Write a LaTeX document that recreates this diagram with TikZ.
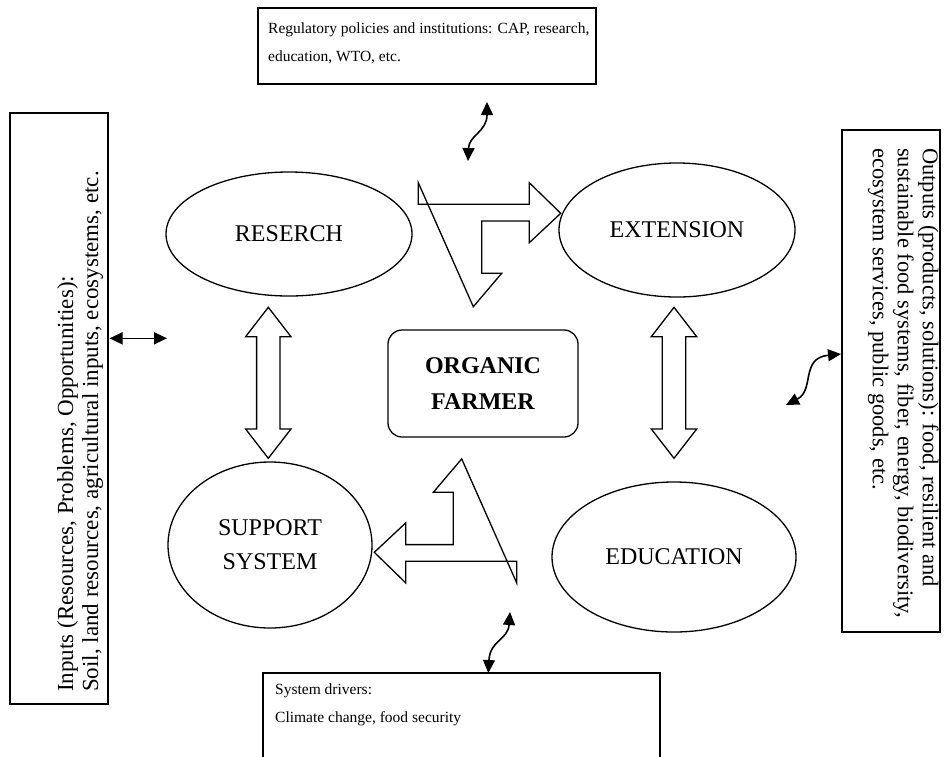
\documentclass[tikz,border=0pt]{standalone}
\usepackage{fontspec}
\setmainfont{Liberation Serif}
\usetikzlibrary{arrows.meta,shapes.geometric}
\begin{document}
\begin{tikzpicture}[x=1pt,y=-1pt,
  outline/.style={draw=black, line width=1.3pt},
  textbox/.style={outline, rectangle, inner sep=0pt},
  oval/.style={outline, ellipse, inner sep=0pt, font=\fontsize{24}{28}\selectfont, align=center},
  blockarrow/.style={draw=black, line width=1.3pt, fill=white, line join=miter},
  smallarrow/.style={line width=1.6pt, {Triangle[length=13pt,width=12pt]}-{Triangle[length=13pt,width=12pt]}},
  boxtext/.style={inner sep=0pt, align=left, font=\fontsize{15.5}{28}\selectfont},
  rottext/.style={inner sep=0pt, align=left, font=\fontsize{22.5}{25}\selectfont},
  dblarr/.pic={\draw[blockarrow] (0,0) -- (22.7,29.4) -- (11.7,29.4) -- (11.7,121.7) -- (22.7,121.7) -- (0,151) -- (-22.7,121.7) -- (-11.7,121.7) -- (-11.7,29.4) -- (-22.7,29.4) -- cycle;}
]
\useasboundingbox (0,0) rectangle (944,756);
\clip (0,0) rectangle (944,756);

% top box
\node[textbox, minimum width=338pt, minimum height=76pt] (reg) at (427,46) {};
\node[boxtext, anchor=north west] (regtext) at (268,23) {Regulatory policies and institutions: CAP, research,\\education, WTO, etc.};

% left box
\node[textbox, minimum width=98pt, minimum height=591pt] (inp) at (59,408.5) {};
\node[rottext, rotate=90, anchor=north west, font=\fontsize{23}{25}\selectfont] (inptext) at (57,692) {Inputs (Resources, Problems, Opportunities):\\Soil, land resources, agricultural inputs, ecosystems, etc.};

% right box
\node[textbox, minimum width=98pt, minimum height=502pt] (outp) at (891,381) {};
\node[rottext, rotate=-90, anchor=north west] (outtext) at (939,148) {Outputs (products, solutions): food, resilient and\\sustainable food systems, fiber, energy, biodiversity,\\ecosystem services, public goods, etc.};

% bottom box
\node[textbox, minimum width=397pt, minimum height=127pt] (drv) at (461.5,736.5) {};
\node[boxtext, anchor=north west] (drvtext) at (275,684) {System drivers:\\Climate change, food security};

% ellipses
\node[oval, minimum width=246pt, minimum height=124pt] (res) at (289,234) {RESERCH};
\node[oval, minimum width=236pt, minimum height=134pt] (ext) at (677,230) {EXTENSION};
\node[oval, minimum width=204pt, minimum height=166pt, font=\fontsize{24}{34}\selectfont] (sup) at (270,545) {SUPPORT\\SYSTEM};
\node[oval, minimum width=244pt, minimum height=150pt] (edu) at (674,557) {EDUCATION};

% central box
\node[outline, rectangle, rounded corners=14pt, minimum width=190pt, minimum height=107pt, align=center, font=\fontsize{24}{36}\selectfont\bfseries] (farmer) at (483,383.5) {ORGANIC\\FARMER};

% bent arrows
\draw[blockarrow] (418.3,182.7) -- (418.3,204.3) -- (529.3,204.3) -- (529.3,182.7) -- (560.7,213.3) -- (529.3,242.7) -- (529.3,221) -- (481.7,221) -- (481.7,273.3) -- (501.7,273.3) -- (473.3,306.7) -- cycle;
\draw[blockarrow] (516.7,582.9) -- (516.7,561.3) -- (405.7,561.3) -- (405.7,582.9) -- (374.3,552.3) -- (405.7,522.9) -- (405.7,544.6) -- (453.3,544.6) -- (453.3,492.3) -- (433.3,492.3) -- (461.7,458.9) -- cycle;

% double block arrows
\pic at (268.3,307.3) {dblarr};
\pic at (674,307.3) {dblarr};

% small curved arrows
\coordinate (t1) at (468,161);
\coordinate (t2) at (487,102);
\draw[smallarrow] (t1) .. controls (469,135) and (487,132) .. (t2);
\coordinate (l1) at (109.5,338.3);
\coordinate (l2) at (167,338.3);
\draw[smallarrow] (l1) -- (l2);
\coordinate (r1) at (786,405);
\coordinate (r2) at (841,354);
\draw[smallarrow] (r1) .. controls (815,390) and (800,358) .. (r2);
\coordinate (b1) at (510,612);
\coordinate (b2) at (488.3,673);
\draw[smallarrow] (b1) .. controls (508,640) and (490,640) .. (b2);
\end{tikzpicture}
\end{document}
